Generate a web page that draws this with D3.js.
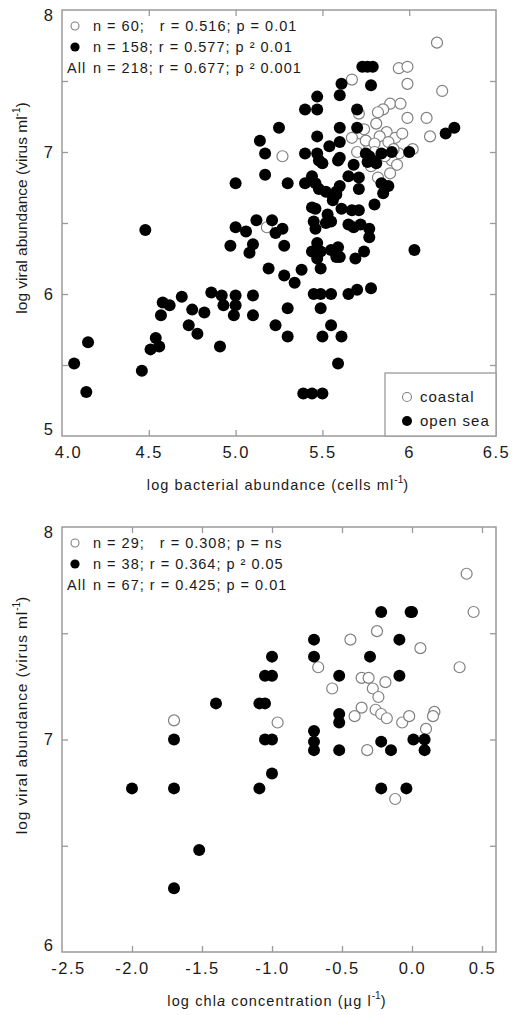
<!DOCTYPE html>
<html>
<head>
<meta charset="utf-8">
<script src="https://cdn.jsdelivr.net/npm/d3@7"></script>
<style>
  body { margin: 0; background: #fff; }
  svg { display: block; font-family: "Liberation Sans", Arial, sans-serif; }
  text { fill: #1a1a1a; }
</style>
</head>
<body>
<div id="container"></div>
<script>
// ---- data ----
// top panel: log bacterial abundance vs log viral abundance
var bactCoastal = [[6.16,7.77],[5.94,7.59],[5.99,7.60],[5.67,7.51],[5.99,7.48],[6.19,7.43],[5.89,7.34],[5.95,7.34],
  [5.85,7.30],[5.82,7.28],[5.71,7.27],[5.99,7.24],[6.10,7.24],[5.81,7.20],[5.87,7.14],[5.72,7.13],[5.67,7.10],
  [5.83,7.11],[5.92,7.10],[6.12,7.11],[5.70,7.00],[5.77,7.04],[5.85,7.04],[6.02,7.02],[5.94,6.99],[5.90,6.94],
  [5.93,6.91],[5.89,6.85],[5.78,6.90],[5.82,6.82],[5.27,6.97],[5.18,6.47],[5.75,7.08],[5.80,7.06],[5.88,7.07],
  [5.91,7.02],[5.74,7.16],[5.96,7.13],[5.86,6.97],[5.80,7.00]];
var bactOpenSea = [[5.00,6.78],[4.48,6.45],[5.00,6.47],[4.97,6.34],[4.86,6.01],[4.92,5.99],[5.00,5.99],[4.69,5.98],
  [4.58,5.94],[4.62,5.92],[4.93,5.92],[5.00,5.92],[4.75,5.89],[4.82,5.87],[4.57,5.85],[4.99,5.85],[4.73,5.78],
  [4.78,5.72],[4.54,5.69],[4.51,5.61],[4.56,5.63],[4.91,5.63],[4.15,5.66],[4.07,5.51],[4.46,5.46],[4.14,5.31],
  [5.10,5.99],[5.10,5.85],[5.23,5.78],[5.30,5.70],[5.30,5.90],[5.19,6.18],[5.28,6.13],[5.34,6.08],[5.38,6.17],
  [5.08,6.29],[5.45,6.00],[5.49,6.00],[5.55,6.00],[5.49,5.90],[5.55,5.78],[5.50,5.70],[5.61,5.70],[5.59,5.51],
  [5.39,5.30],[5.44,5.30],[5.50,5.30],[5.65,6.00],[5.70,6.03],[5.78,6.04],[5.60,6.26],[5.69,6.25],[5.74,6.30],
  [6.03,6.31],[5.44,6.30],[5.49,6.18],[5.49,6.30],[5.55,6.31],[5.47,6.25],
  [5.06,6.44],[5.12,6.52],[5.21,6.52],[5.23,6.43],[5.27,6.46],[5.10,6.35],[5.28,6.34],
  [5.44,6.61],[5.46,6.60],[5.53,6.56],[5.56,6.69],[5.58,6.72],[5.45,6.51],[5.46,6.46],[5.52,6.50],[5.47,6.36],
  [5.59,6.33],[5.58,6.26],
  [5.61,7.48],[5.60,7.40],[5.47,7.39],[5.40,7.30],[5.47,7.30],[5.25,7.17],[5.14,7.08],[5.47,7.11],[5.54,7.04],
  [5.60,7.07],[5.17,6.99],[5.40,6.99],[5.47,6.99],[5.48,6.94],[5.50,6.92],[5.59,6.94],[5.17,6.84],[5.30,6.78],
  [5.40,6.78],[5.44,6.83],[5.46,6.78],[5.48,6.74],[5.52,6.72],[5.58,6.70],[5.60,6.76],
  [5.73,7.60],[5.76,7.60],[5.79,7.60],[5.78,7.47],[5.70,7.30],[5.70,7.17],[5.60,7.17],[6.21,7.13],[6.26,7.17],
  [5.60,6.96],[5.75,6.99],[5.77,6.97],[5.79,6.94],[5.81,6.92],[5.76,6.93],[5.84,6.99],[5.90,7.00],[6.00,7.00],
  [5.68,6.91],[5.65,6.83],[5.71,6.82],[5.71,6.74],[5.84,6.78],[5.88,6.76],[5.85,6.71],[5.56,6.66],
  [5.80,6.63],[5.61,6.60],[5.67,6.59],[5.71,6.59],[5.55,6.51],[5.65,6.49],[5.68,6.47],[5.72,6.49],[5.77,6.46],
  [5.77,6.40]];

// bottom panel: log chla vs log viral abundance
var chlaCoastal = [[-1.70,7.09],[-0.96,7.08],[0.39,7.78],[0.44,7.60],[-0.25,7.51],[-0.44,7.47],[0.06,7.43],
  [-0.67,7.34],[0.34,7.34],[-0.36,7.29],[-0.31,7.29],[-0.19,7.27],[-0.57,7.24],[-0.28,7.24],[-0.24,7.20],
  [-0.36,7.15],[-0.41,7.11],[-0.26,7.14],[-0.22,7.12],[-0.18,7.10],[-0.07,7.08],[-0.02,7.11],[0.16,7.13],
  [0.15,7.11],[0.10,7.05],[-0.32,6.95],[-0.12,6.72]];
var chlaOpenSea = [[-1.00,7.39],[-1.05,7.30],[-1.00,7.30],[-1.40,7.17],[-1.09,7.17],[-1.05,7.17],[-1.70,7.00],
  [-1.05,7.00],[-1.00,7.00],[-1.00,6.84],[-2.00,6.77],[-1.70,6.77],[-1.09,6.77],[-1.52,6.48],[-1.70,6.30],
  [-0.22,7.60],[-0.01,7.60],[0.00,7.60],[-0.70,7.47],[-0.09,7.47],[-0.70,7.39],[-0.30,7.39],[-0.52,7.30],
  [-0.09,7.30],[-0.52,7.12],[-0.52,7.08],[-0.70,7.04],[-0.70,6.99],[-0.70,6.95],[-0.52,6.95],[-0.22,6.99],
  [-0.15,6.95],[0.01,7.00],[0.09,7.00],[0.09,6.95],[-0.22,6.77],[-0.04,6.77]];

var statsTop = ["n = 60;   r = 0.516; p = 0.01", "n = 158; r = 0.577; p \u00B2 0.01", "n = 218; r = 0.677; p \u00B2 0.001"];
var statsBottom = ["n = 29;   r = 0.308; p = ns", "n = 38; r = 0.364; p \u00B2 0.05", "n = 67; r = 0.425; p = 0.01"];

var xTicksTop = [4.0, 4.5, 5.0, 5.5, 6.0, 6.5];
var xLabelsTop = ["4.0", "4.5", "5.0", "5.5", "6", "6.5"];
var yTicksTop = [5, 5.5, 6, 6.5, 7, 7.5, 8];
var xTicksBottom = [-2.5, -2.0, -1.5, -1.0, -0.5, 0.0, 0.5];
var xLabelsBottom = ["-2.5", "-2.0", "-1.5", "-1.0", "-0.5", "0.0", "0.5"];
var yTicksBottom = [6, 6.5, 7, 7.5, 8];
var legendNames = ["coastal", "open sea"];

(function(){
  var width = 512, height = 1015
  var svg = d3.select("#container").append("svg")
      .attr("width", width).attr("height", height)

  var frameColor = "#9a9a9a"

  function panel(cfg){
    var x = d3.scaleLinear().domain(cfg.xDomain).range([62, 496])
    var y = d3.scaleLinear().domain(cfg.yDomain).range([cfg.bottom, cfg.top])
    var g = svg.append("g")

    // ticks on four sides, all pointing inward
    var ax = [
      d3.axisBottom(x).tickValues(cfg.xTicks).tickSize(-6).tickPadding(10)
        .tickFormat(function(d,i){ return cfg.xLabels[i] }),
      d3.axisTop(x).tickValues(cfg.xTicks).tickSize(-6).tickFormat(""),
      d3.axisLeft(y).tickValues(cfg.yTicks).tickSize(-6).tickPadding(9)
        .tickFormat(function(d){ return d % 1 === 0 ? d : "" }),
      d3.axisRight(y).tickValues(cfg.yTicks).tickSize(-6).tickFormat("")
    ]
    var pos = ["translate(0," + cfg.bottom + ")", "translate(0," + cfg.top + ")",
               "translate(62,0)", "translate(496,0)"]
    var groups = ax.map(function(a, i){
      var ag = g.append("g").attr("transform", pos[i]).call(a)
      ag.select(".domain").remove()
      ag.selectAll(".tick line").attr("stroke", frameColor).attr("stroke-width", 1.3)
      ag.selectAll(".tick text").attr("font-size", 16.5).attr("font-family", "Liberation Sans, Arial, sans-serif")
        .attr("fill", "#1a1a1a")
      // no tick marks on the frame corners
      ag.selectAll(".tick").filter(function(d){
        return i < 2 ? (d === cfg.xTicks[0] || d === cfg.xTicks[cfg.xTicks.length - 1] && d >= cfg.xDomain[1])
                     : (d === cfg.yDomain[0] || d === cfg.yDomain[1])
      }).select("line").remove()
      return ag
    })
    groups[0].selectAll(".tick text").attr("letter-spacing", 1.5)
    // nudge end labels inside like the original
    groups[2].selectAll(".tick text").attr("transform", function(d){
      if (d === cfg.yDomain[1]) return "translate(0,5)"
      if (d === cfg.yDomain[0]) return "translate(0,-7)"
      return null
    })
    groups[0].selectAll(".tick text").attr("transform", function(d){
      return d === cfg.xDomain[0] ? "translate(6,0)" : null
    })

    g.append("rect")
      .attr("x", 62).attr("y", cfg.top)
      .attr("width", 434).attr("height", cfg.bottom - cfg.top)
      .attr("fill", "none").attr("stroke", frameColor).attr("stroke-width", 1.5)

    // points: coastal (open) under open sea (filled)
    g.append("g").selectAll("circle").data(cfg.coastal).enter().append("circle")
      .attr("cx", function(d){ return x(d[0]) })
      .attr("cy", function(d){ return y(d[1]) })
      .attr("r", 5.5).attr("fill", "#fff").attr("stroke", "#808080").attr("stroke-width", 1.2)
    g.append("g").selectAll("circle").data(cfg.openSea).enter().append("circle")
      .attr("cx", function(d){ return x(d[0]) })
      .attr("cy", function(d){ return y(d[1]) })
      .attr("r", 6).attr("fill", "#000")

    // stats legend
    var st = g.append("g").attr("font-size", 14.5).attr("letter-spacing", 1)
    cfg.stats.forEach(function(s, i){
      var by = cfg.top + 21 + i * 21
      if (i === 0) st.append("circle").attr("cx", 75).attr("cy", by - 5).attr("r", 4)
        .attr("fill", "#fff").attr("stroke", "#808080").attr("stroke-width", 1.1)
      if (i === 1) st.append("circle").attr("cx", 75).attr("cy", by - 5).attr("r", 4.6).attr("fill", "#000")
      if (i === 2) st.append("text").attr("x", 67).attr("y", by).text("All")
      st.append("text").attr("x", 93).attr("y", by)
        .style("white-space", "pre").text(s)
    })

    // axis titles
    var xt = g.append("text").attr("x", cfg.xTitleX).attr("y", cfg.bottom + 54)
      .attr("text-anchor", "middle").attr("font-size", 14.5).attr("letter-spacing", 1.1)
    cfg.xTitle.forEach(function(p){
      var t = xt.append("tspan").text(p[0])
      if (p[1] === "sup") t.attr("font-size", 10).attr("dy", -7).attr("letter-spacing", 0)
      if (p[1] === "after") t.attr("dy", 7)
      if (p[1] === "it") t.attr("font-style", "italic")
    })
    var yt = g.append("text")
      .attr("transform", "translate(27," + cfg.yTitleY + ") rotate(-90)")
      .attr("text-anchor", "middle").attr("font-size", 15.5).attr("letter-spacing", cfg.yTitleSpacing)
    yt.append("tspan").text("log viral abundance (virus ml")
    yt.append("tspan").attr("font-size", 10).attr("dy", -7).attr("letter-spacing", 0).text("-1")
    yt.append("tspan").attr("dy", 7).text(")")
  }

  panel({
    top: 10, bottom: 436, xDomain: [4, 6.5], yDomain: [5, 8],
    xTicks: xTicksTop, xLabels: xLabelsTop, yTicks: yTicksTop,
    coastal: bactCoastal, openSea: bactOpenSea, stats: statsTop,
    xTitleX: 278, xTitle: [["log bacterial abundance (cells ml"], ["-1", "sup"], [")", "after"]],
    yTitleY: 208, yTitleSpacing: 0
  })

  panel({
    top: 527, bottom: 952, xDomain: [-2.5, 0.6], yDomain: [6, 8],
    xTicks: xTicksBottom, xLabels: xLabelsBottom, yTicks: yTicksBottom,
    coastal: chlaCoastal, openSea: chlaOpenSea, stats: statsBottom,
    xTitleX: 277, xTitle: [["log chl"], ["a", "it"], [" concentration (\u00B5g l"], ["-1", "sup"], [")", "after"]],
    yTitleY: 715, yTitleSpacing: 0.9
  })

  // symbol key, bottom right of the top panel
  var key = svg.append("g").attr("font-size", 15).attr("letter-spacing", 1)
  key.append("rect").attr("x", 385).attr("y", 373).attr("width", 111).attr("height", 63)
    .attr("fill", "#fff").attr("stroke", frameColor).attr("stroke-width", 1.3)
  legendNames.forEach(function(n, i){
    var cy = 397 + i * 24
    key.append("circle").attr("cx", 407).attr("cy", cy).attr("r", i === 0 ? 4.5 : 5)
      .attr("fill", i === 0 ? "#fff" : "#000").attr("stroke", i === 0 ? "#808080" : "none").attr("stroke-width", 1.1)
    key.append("text").attr("x", 420).attr("y", cy + 5).text(n)
  })
})()
</script>
</body>
</html>
